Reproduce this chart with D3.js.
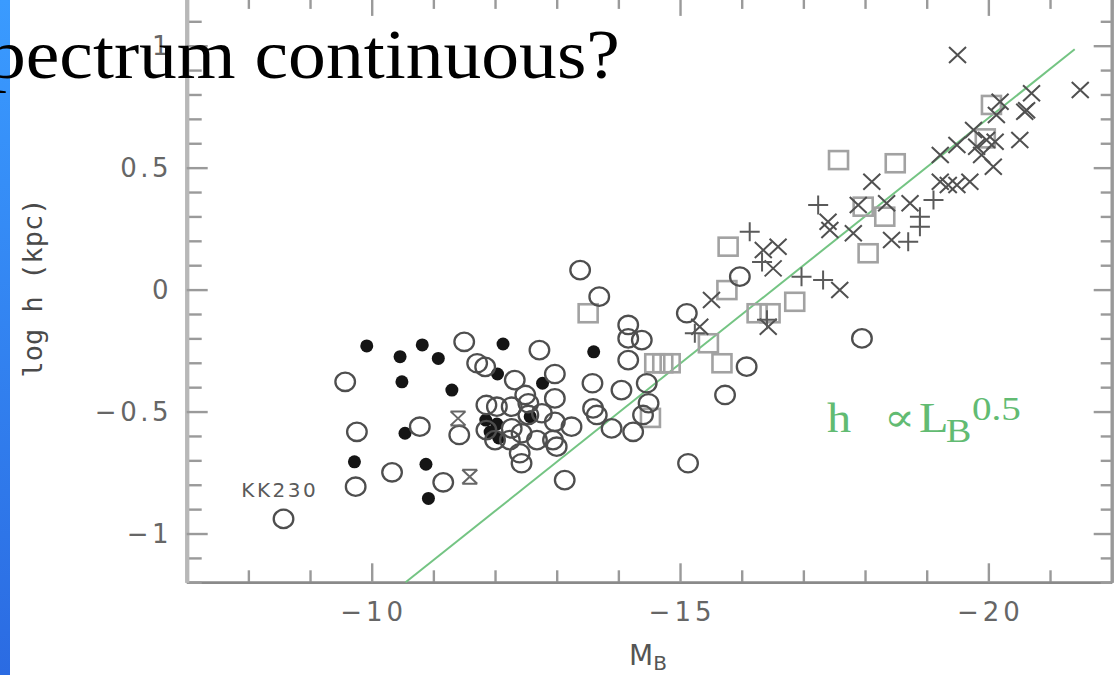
<!DOCTYPE html>
<html><head><meta charset="utf-8">
<script src="https://cdn.jsdelivr.net/npm/d3@7"></script>
<style>html,body{margin:0;padding:0;background:#fff;overflow:hidden}</style>
</head><body>
<svg id="c" width="1120" height="675"></svg>
<script>
// ---------- data ----------
const xDomain = [-7, -22];
const yDomain = [-1.2, 1.2];
const xMinorTicks = [-7,-8,-9,-11,-12,-13,-14,-16,-17,-18,-19,-21,-22];
const xMajorTicks = [-10, -15, -20];
const xTickLabels = ["\u221210", "\u221215", "\u221220"];
const yMinorTicks = [-1.2,-1.1,-0.9,-0.8,-0.7,-0.6,-0.4,-0.3,-0.2,-0.1,0.1,0.2,0.3,0.4,0.6,0.7,0.8,0.9,1.1,1.2];
const yMajorTicks = [-1, -0.5, 0, 0.5, 1];
const yTickLabels = ["\u22121", "\u22120.5", "0", "0.5", "1"];

const openCircles = [[-8.57,-0.94],[-9.57,-0.378],[-9.76,-0.583],[-9.74,-0.808],[-10.33,-0.749],[-10.78,-0.562],[-11.16,-0.79],[-11.42,-0.596],[-11.50,-0.214],[-11.71,-0.302],[-11.84,-0.317],[-12.72,-0.248],[-12.32,-0.371],[-12.97,-0.346],[-12.97,-0.446],[-12.49,-0.432],[-12.54,-0.466],[-11.86,-0.473],[-12.03,-0.48],[-12.27,-0.48],[-11.86,-0.576],[-12.00,-0.617],[-12.54,-0.514],[-12.76,-0.507],[-12.97,-0.542],[-12.27,-0.569],[-12.43,-0.589],[-12.68,-0.617],[-12.94,-0.617],[-13.00,-0.644],[-13.24,-0.562],[-12.40,-0.671],[-12.43,-0.712],[-12.24,-0.617],[-13.59,-0.487],[-13.65,-0.514],[-13.89,-0.569],[-14.24,-0.583],[-14.05,-0.412],[-13.58,-0.384],[-14.46,-0.384],[-14.49,-0.466],[-14.40,-0.514],[-14.16,-0.145],[-14.16,-0.200],[-14.38,-0.207],[-14.16,-0.289],[-13.38,0.080],[-13.69,-0.029],[-13.13,-0.781],[-15.13,-0.712],[-15.11,-0.097],[-15.73,-0.432],[-16.08,-0.316],[-15.97,0.053],[-17.95,-0.200]];
const filledCircles = [[-9.92,-0.231],[-10.46,-0.275],[-10.82,-0.227],[-11.08,-0.282],[-10.49,-0.378],[-11.30,-0.412],[-10.54,-0.589],[-9.72,-0.706],[-10.88,-0.716],[-10.92,-0.856],[-12.13,-0.223],[-13.60,-0.255],[-12.04,-0.346],[-12.77,-0.384],[-11.85,-0.535],[-12.03,-0.551],[-11.92,-0.584],[-12.06,-0.608],[-12.57,-0.521]];
const squares = [[-13.51,-0.097],[-14.59,-0.302],[-14.72,-0.302],[-14.84,-0.302],[-15.46,-0.220],[-15.68,-0.302],[-15.76,-0.002],[-15.78,0.176],[-16.25,-0.097],[-16.46,-0.097],[-16.86,-0.050],[-17.57,0.531],[-18.49,0.518],[-18.05,0.149],[-18.32,0.299],[-17.97,0.340],[-20.05,0.757],[-19.95,0.620],[-14.52,-0.526]];
const crosses = [[-19.50,0.962],[-21.49,0.818],[-20.70,0.805],[-20.59,0.729],[-20.62,0.735],[-20.19,0.770],[-20.13,0.716],[-20.51,0.613],[-19.76,0.654],[-19.97,0.613],[-20.11,0.606],[-19.81,0.586],[-19.49,0.593],[-19.89,0.552],[-20.08,0.504],[-19.22,0.552],[-18.11,0.442],[-19.22,0.442],[-19.35,0.429],[-19.49,0.429],[-19.70,0.442],[-18.73,0.354],[-18.35,0.354],[-17.89,0.347],[-17.40,0.278],[-17.81,0.231],[-18.43,0.203],[-17.43,0.244],[-16.35,0.162],[-16.59,0.176],[-16.51,0.087],[-15.51,-0.043],[-15.32,-0.152],[-16.43,-0.152],[-17.59,-0.002]];
const pluses = [[-17.24,0.347],[-16.13,0.237],[-16.33,0.113],[-15.24,-0.179],[-16.41,-0.124],[-16.97,0.053],[-17.32,0.039],[-19.11,0.367],[-18.89,0.299],[-18.89,0.258],[-18.70,0.196]];
const hourglasses = [[-11.40,-0.528],[-11.59,-0.767]];
const fitLine = [[-10.55,-1.2],[-21.4,0.985]];

// ---------- drawing ----------
const svg = d3.select("#c");
const x = d3.scaleLinear().domain(xDomain).range([186.7, 1111.7]);
const y = d3.scaleLinear().domain(yDomain).range([582.3, -3.1]);
const g = svg.append("g");
const tickCol = "#9a9a9a";

function styleAx(stroke, w){
  return sel => {
    sel.select(".domain").attr("stroke", stroke).attr("stroke-width", w);
    sel.selectAll(".tick line").attr("stroke", tickCol).attr("stroke-width", 2.4);
    sel.selectAll(".tick text").remove();
  };
}
const y0 = y(yDomain[0]), y1 = y(yDomain[1]), x0 = x(xDomain[0]), x1 = x(xDomain[1]);
g.append("g").attr("transform", `translate(0,${y0})`).call(d3.axisBottom(x).tickValues(xMinorTicks).tickSize(-12).tickSizeOuter(0)).call(styleAx("#8a8a8a", 2.5));
g.append("g").attr("transform", `translate(0,${y0})`).call(d3.axisBottom(x).tickValues(xMajorTicks).tickSize(-19).tickSizeOuter(0)).call(styleAx("#8a8a8a", 2.5));
g.append("g").attr("transform", `translate(0,${y1})`).call(d3.axisTop(x).tickValues(xMinorTicks).tickSize(-12).tickSizeOuter(0)).call(styleAx("#999", 2.5));
g.append("g").attr("transform", `translate(0,${y1})`).call(d3.axisTop(x).tickValues(xMajorTicks).tickSize(-19).tickSizeOuter(0)).call(styleAx("#999", 2.5));
g.append("g").attr("transform", `translate(${x0},0)`).call(d3.axisLeft(y).tickValues(yMinorTicks).tickSize(-15).tickSizeOuter(0)).call(styleAx("#b8b8b8", 4));
g.append("g").attr("transform", `translate(${x0},0)`).call(d3.axisLeft(y).tickValues(yMajorTicks).tickSize(-21).tickSizeOuter(0)).call(styleAx("#b8b8b8", 4));
g.append("g").attr("transform", `translate(${x1},0)`).call(d3.axisRight(y).tickValues(yMinorTicks).tickSize(-11).tickSizeOuter(0)).call(styleAx("#999", 3));
g.append("g").attr("transform", `translate(${x1},0)`).call(d3.axisRight(y).tickValues(yMajorTicks).tickSize(-18).tickSizeOuter(0)).call(styleAx("#999", 3));

// tick labels
const lblFont = "'DejaVu Sans', sans-serif";
g.selectAll("text.xl").data(xMajorTicks).join("text")
  .attr("x", d => x(d) + 2).attr("y", 621)
  .attr("text-anchor", "middle").attr("font-family", lblFont).attr("font-size", 26)
  .attr("letter-spacing", 4).attr("fill", "#666")
  .text((d, i) => xTickLabels[i]);
g.selectAll("text.yl").data(yMajorTicks).join("text")
  .attr("x", 172).attr("y", d => y(d)).attr("dy", "0.36em")
  .attr("text-anchor", "end").attr("font-family", lblFont).attr("font-size", 26)
  .attr("letter-spacing", 3.5).attr("fill", "#666")
  .text((d, i) => yTickLabels[i]);

// axis titles
g.append("text").attr("transform", "translate(42,288) rotate(-90)")
  .attr("text-anchor", "middle").attr("font-family", "'DejaVu Sans Mono', monospace")
  .attr("font-size", 27).attr("fill", "#4a4a4a").text("log h (kpc)");
const mb = g.append("text").attr("x", 629).attr("y", 665)
  .attr("font-family", lblFont).attr("font-size", 28).attr("fill", "#555");
mb.append("tspan").text("M");
mb.append("tspan").attr("dy", 5).attr("font-size", 20).text("B");

// KK230
g.append("text").attr("x", x(-8.51)).attr("y", y(-0.851))
  .attr("text-anchor", "middle").attr("font-family", lblFont).attr("font-size", 20)
  .attr("letter-spacing", 2.5).attr("fill", "#5a5a5a").text("KK230");

// fit line
g.append("path").datum(fitLine)
  .attr("d", d3.line().x(d => x(d[0])).y(d => y(d[1])))
  .attr("fill", "none").attr("stroke", "#74c483").attr("stroke-width", 2);

// markers
g.selectAll("rect.sq").data(squares).join("rect")
  .attr("x", d => x(d[0]) - 9.5).attr("y", d => y(d[1]) - 9)
  .attr("width", 19).attr("height", 18)
  .attr("fill", "none").attr("stroke", "#a2a2a2").attr("stroke-width", 2.6);
g.selectAll("circle.fc").data(filledCircles).join("circle")
  .attr("cx", d => x(d[0])).attr("cy", d => y(d[1])).attr("r", 6.5).attr("fill", "#151515");
g.selectAll("ellipse.oc").data(openCircles).join("ellipse")
  .attr("cx", d => x(d[0])).attr("cy", d => y(d[1])).attr("rx", 9.8).attr("ry", 9.2)
  .attr("fill", "none").attr("stroke", "#4e4e4e").attr("stroke-width", 2.3);
g.selectAll("path.cr").data(crosses).join("path")
  .attr("d", d => { const cx = x(d[0]), cy = y(d[1]), h = 8.5, v = 8;
    return `M${cx-h},${cy-v}L${cx+h},${cy+v}M${cx-h},${cy+v}L${cx+h},${cy-v}`; })
  .attr("stroke", "#505050").attr("stroke-width", 2).attr("fill", "none");
g.selectAll("path.pl").data(pluses).join("path")
  .attr("d", d => { const cx = x(d[0]), cy = y(d[1]), h = 10, v = 9.5;
    return `M${cx-h},${cy}L${cx+h},${cy}M${cx},${cy-v}L${cx},${cy+v}`; })
  .attr("stroke", "#5a5a5a").attr("stroke-width", 2).attr("fill", "none");
g.selectAll("path.hg").data(hourglasses).join("path")
  .attr("d", d => { const cx = x(d[0]), cy = y(d[1]), h = 7.5, v = 7;
    return `M${cx-h},${cy-v}L${cx+h},${cy+v}M${cx-h},${cy+v}L${cx+h},${cy-v}M${cx-h},${cy-v}L${cx+h},${cy-v}M${cx-h},${cy+v}L${cx+h},${cy+v}`; })
  .attr("stroke", "#666").attr("stroke-width", 2).attr("fill", "none");

// green annotation
const gfill = "#62bb72", gfont = "'Liberation Serif', 'DejaVu Serif', serif";
function gtext(tx, ty, size, str, fam){
  g.append("text").attr("transform", `translate(${tx},${ty}) scale(1.15,1)`)
    .attr("font-family", fam || gfont).attr("font-size", size).attr("fill", gfill).text(str);
}
gtext(827, 432, 42, "h");
gtext(884, 431, 40, "\u221D", "'DejaVu Serif', serif");
gtext(919, 432, 42, "L");
gtext(946, 442, 33, "B");
gtext(972, 420, 34, "0.5");

// slide decoration
const defs = svg.append("defs");
const lg = defs.append("linearGradient").attr("id", "blue").attr("x1", 0).attr("y1", 0).attr("x2", 0).attr("y2", 1);
lg.append("stop").attr("offset", "0%").attr("stop-color", "#3a9bff");
lg.append("stop").attr("offset", "100%").attr("stop-color", "#2b6be2");
svg.append("rect").attr("x", 0).attr("y", 0).attr("width", 10).attr("height", 675).attr("fill", "url(#blue)");
svg.append("text").attr("transform", "translate(-12,78) scale(1.08,1)")
  .attr("font-family", "'Liberation Serif', 'Times New Roman', serif").attr("font-size", 70)
  .attr("fill", "#000").text("pectrum continuous?");
</script>
</body></html>
